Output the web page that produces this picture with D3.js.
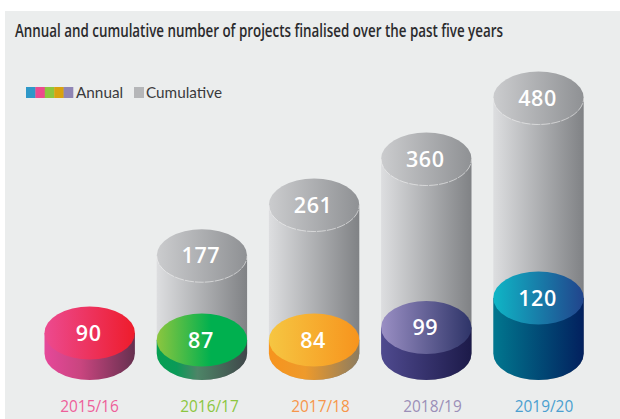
<!DOCTYPE html>
<html>
<head>
<meta charset="utf-8">
<script src="https://cdn.jsdelivr.net/npm/d3@7"></script>
<style>
  html, body { margin: 0; padding: 0; background: #fff; }
  svg { display: block; }
</style>
</head>
<body>
<div id="chart"></div>
<script>
var years = ["2015/16", "2016/17", "2017/18", "2018/19", "2019/20"];
var annual = [90, 87, 84, 99, 120];
var cumulative = [null, 177, 261, 360, 480];

var legendColors = ["#2e98c8", "#ec4a8e", "#8cc63f", "#d9a20f", "#8f85b5"];
var yearColors = ["#ee5f9a", "#8cc63f", "#f7964a", "#9b8fb8", "#4a9fd0"];
var topStops = [
  [[0, "#ec4a90"], [1, "#ee1c2b"]],
  [[0, "#8cc63f"], [0.6, "#00b04f"], [1, "#00b04f"]],
  [[0, "#f6c642"], [1, "#f7941d"]],
  [[0, "#9a8fc4"], [1, "#2e3468"]],
  [[0, "#0fb6c6"], [1, "#21448c"]]
];
var sideStops = [
  [[0, "#e6489a"], [0.4, "#c9457f"], [1, "#66304f"]],
  [[0, "#05a052"], [0.22, "#0a9a58"], [0.45, "#4d8567"], [1, "#40474a"]],
  [[0, "#f7941d"], [0.4, "#ee9a2b"], [1, "#8c7c60"]],
  [[0, "#4f4a8f"], [1, "#1c1a49"]],
  [[0, "#01778f"], [1, "#02205e"]]
];
var grayTop = [[0, "#cbccce"], [1, "#8f9194"]];
var graySide = [[0, "#dddee0"], [1, "#808285"]];

var width = 620, height = 419;
var rx = 45.2, ry = 26.5;
var baseY = 353.5;

var svg = d3.select("#chart").append("svg")
  .attr("width", width)
  .attr("height", height);

var defs = svg.append("defs");

function gradient(id, stops) {
  var g = defs.append("linearGradient").attr("id", id)
    .attr("x1", "0%").attr("x2", "100%").attr("y1", "0%").attr("y2", "0%");
  stops.forEach(function(s) {
    g.append("stop").attr("offset", s[0]).attr("stop-color", s[1]);
  });
}
topStops.forEach(function(s, i) { gradient("top" + i, s); });
sideStops.forEach(function(s, i) { gradient("side" + i, s); });
gradient("grayTop", grayTop);
gradient("graySide", graySide);

svg.append("rect")
  .attr("x", 5).attr("y", 11)
  .attr("width", width - 5).attr("height", height - 11)
  .attr("fill", "#ebeded");

// the picture is not to scale, so the value axis is read off piece by piece
var yScale = d3.scaleLinear()
  .domain([84, 87, 90, 99, 120, 177, 261, 360, 480])
  .range([340, 340, 333, 327.5, 298, 255.7, 205, 159, 98]);

var xScale = d3.scalePoint()
  .domain(years)
  .range([89.7, 538.5]);

// the year labels drift right of their cylinders in the original
var labelX = d3.scaleOrdinal()
  .domain(years)
  .range([89.5, 209.5, 320.5, 432.5, 544]);

function body(cx, topY) {
  return "M" + (cx - rx) + "," + topY +
    "L" + (cx - rx) + "," + baseY +
    "A" + rx + "," + ry + " 0 0 0 " + (cx + rx) + "," + baseY +
    "L" + (cx + rx) + "," + topY + "Z";
}

function cylinder(g, cx, topY, sideFill, topFill) {
  g.append("path").attr("d", body(cx, topY)).attr("fill", sideFill);
  g.append("ellipse")
    .attr("cx", cx).attr("cy", topY)
    .attr("rx", rx).attr("ry", ry)
    .attr("fill", topFill);
}

var groups = svg.selectAll(".year")
  .data(years)
  .enter()
  .append("g")
  .attr("class", "year");

groups.each(function(year, i) {
  var g = d3.select(this);
  var cx = xScale(year);
  if (cumulative[i] !== null) {
    var cy = yScale(cumulative[i]);
    cylinder(g, cx, cy, "url(#graySide)", "url(#grayTop)");
    // thin pale rim on the front of the lid
    g.append("path")
      .attr("d", "M" + (cx - rx) + "," + cy + "A" + rx + "," + ry + " 0 0 0 " + (cx + rx) + "," + cy)
      .attr("fill", "none")
      .attr("stroke", "#f1f2f2")
      .attr("stroke-width", 0.6)
      .attr("stroke-dasharray", "9 1");
    g.append("text")
      .attr("class", "val")
      .attr("x", cx - 1).attr("y", cy + 7.5)
      .text(cumulative[i]);
  }
  var ay = yScale(annual[i]);
  cylinder(g, cx, ay, "url(#side" + i + ")", "url(#top" + i + ")");
  g.append("text")
    .attr("class", "val")
    .attr("x", cx - 1).attr("y", ay + 7.5)
    .text(annual[i]);
  g.append("text")
    .attr("x", labelX(year)).attr("y", 412)
    .attr("text-anchor", "middle")
    .attr("font-family", "'Open Sans', sans-serif")
    .attr("font-size", 15.4)
    .attr("fill", yearColors[i])
    .text(year);
});

svg.selectAll(".val")
  .attr("text-anchor", "middle")
  .attr("font-family", "'Open Sans', sans-serif")
  .attr("font-size", 21.5)
  .attr("font-weight", 600)
  .attr("letter-spacing", 0.6)
  .attr("fill", "#fff");

// title
svg.append("text")
  .attr("transform", "translate(15,37) scale(0.743,1)")
  .attr("font-family", "'Open Sans', sans-serif")
  .attr("font-size", 18)
  .attr("font-weight", 600)
  .attr("fill", "#2b2b2d")
  .text("Annual and cumulative number of projects finalised over the past five years");

// legend
var legendX = d3.scaleBand()
  .domain(legendColors)
  .range([26, 73]);

svg.selectAll(".swatch")
  .data(legendColors)
  .enter()
  .append("rect")
  .attr("class", "swatch")
  .attr("x", function(d) { return legendX(d); })
  .attr("y", 87)
  .attr("width", legendX.bandwidth() + 0.3)
  .attr("height", 11)
  .attr("fill", function(d) { return d; });

svg.append("rect")
  .attr("x", 134).attr("y", 87)
  .attr("width", 10).attr("height", 11)
  .attr("fill", "#b5b6b8");

svg.selectAll(".legendText")
  .data([[76, "Annual"], [146, "Cumulative"]])
  .enter()
  .append("text")
  .attr("x", function(d) { return d[0]; })
  .attr("y", 98)
  .attr("font-family", "Lato, 'Open Sans', sans-serif")
  .attr("font-size", 15.3)
  .attr("fill", "#3a3a3c")
  .text(function(d) { return d[1]; });
</script>
</body>
</html>
